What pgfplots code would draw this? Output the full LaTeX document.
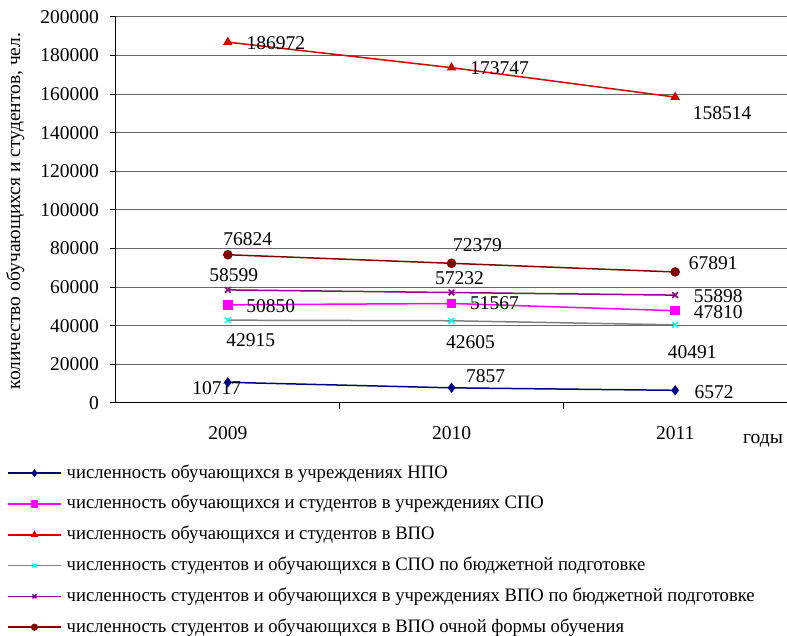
\documentclass[border=0pt]{standalone}
\usepackage{fontspec}
\setmainfont{Liberation Serif}
\newfontfamily\legfont{Liberation Serif}[FakeStretch=0.98]
\usepackage{pgfplots}
\pgfplotsset{compat=1.18}
\definecolor{cnpo}{RGB}{0,0,128}
\definecolor{cspo}{RGB}{255,0,255}
\definecolor{cvpo}{RGB}{210,0,0}
\definecolor{cgray}{RGB}{128,128,128}
\definecolor{ccyan}{RGB}{0,255,255}
\definecolor{cpurp}{RGB}{128,0,128}
\definecolor{cdred}{RGB}{128,0,0}
\pgfplotsset{
  legend image code/.code={\draw[mark repeat=2,mark phase=2,#1,mark size=2.8pt] plot coordinates {(0pt,0pt) (26.5pt,0pt) (53pt,0pt)};}
}
\newcommand{\lbl}[5]{\node[inner sep=0pt,anchor=center,font=\fontsize{19.5}{22}\selectfont] at ([shift={(#3pt,#4pt)}]axis cs:#1,#2) {#5};}
\begin{document}
\begin{tikzpicture}
\path[use as bounding box] (-116pt,-233pt) rectangle (671pt,403pt);
\begin{axis}[
  at={(0pt,0pt)}, anchor=south west,
  scale only axis, width=671pt, height=386pt,
  xmin=-0.5, xmax=2.5, ymin=0, ymax=200000,
  clip=false,
  axis x line*=bottom, axis y line*=left,
  axis line style={-, black, line width=1pt},
  xtick={0,1,2}, xticklabels={2009,2010,2011},
  minor xtick={0.5,1.5},
  major x tick style={draw=none},
  ytick={0,20000,...,200000},
  tick align=outside, major tick length=6pt, minor tick length=6pt,
  tick style={black, line width=1pt},
  ymajorgrids, grid style={black!60, line width=1pt},
  scaled y ticks=false,
  /pgf/number format/assume math mode=true,
  yticklabel style={/pgf/number format/fixed, /pgf/number format/1000 sep={}, inner sep=0pt, xshift=-11pt},
  xticklabel style={inner sep=0pt, yshift=-17pt},
  tick label style={font=\rmfamily\fontsize{19.5}{22}\selectfont},
  ylabel={количество обучающихся и студентов, чел.},
  ylabel style={at={(axis description cs:-0.150,0.497)}, anchor=center, rotate=0, font=\fontsize{19.5}{22}\selectfont},
  legend cell align=left,
  legend style={draw=none, fill=none, at={(axis description cs:-0.1624,-0.158)}, anchor=north west,
    inner sep=0pt, row sep=12.8pt, column sep=5pt,
    font=\legfont\fontsize{19}{22}\selectfont,
    nodes={inner sep=0pt, text height=14pt, text depth=4pt}},
]
\addplot[color=cnpo, line width=1.5pt, mark=diamond*, mark size=4pt] coordinates {(0,10717) (1,7857) (2,6572)};
\addlegendentry{численность обучающихся в учреждениях НПО}
\addplot[color=cspo, line width=1.5pt, mark=square*, mark size=4pt] coordinates {(0,50850) (1,51567) (2,47810)};
\addlegendentry{численность обучающихся и студентов в учреждениях СПО}
\addplot[color=cvpo, line width=1.5pt, mark=triangle*, mark size=4pt] coordinates {(0,186972) (1,173747) (2,158514)};
\addlegendentry{численность обучающихся и студентов в ВПО}
\addplot[color=cgray, line width=1.5pt, mark=x, mark size=4pt, mark options={color=ccyan, line width=1.5pt}] coordinates {(0,42915) (1,42605) (2,40491)};
\addlegendentry{численность студентов и обучающихся в СПО по бюджетной подготовке}
\addplot[color=cpurp, line width=1.5pt, mark=x, mark size=4pt, mark options={line width=1.5pt}] coordinates {(0,58599) (1,57232) (2,55898)};
\addlegendentry{численность студентов и обучающихся в учреждениях ВПО по бюджетной подготовке}
\addplot[color=cdred, line width=1.5pt, mark=*, mark size=4pt] coordinates {(0,76824) (1,72379) (2,67891)};
\addlegendentry{численность студентов и обучающихся в ВПО очной формы обучения}
\lbl{0}{10717}{-11}{-6}{10717}
\lbl{1}{7857}{34}{12}{7857}
\lbl{2}{6572}{39}{-2}{6572}
\lbl{0}{50850}{43}{-1}{50850}
\lbl{1}{51567}{43}{0}{51567}
\lbl{2}{47810}{43}{-1}{47810}
\lbl{0}{186972}{48}{-1}{186972}
\lbl{1}{173747}{48}{0}{173747}
\lbl{2}{158514}{47}{-16}{158514}
\lbl{0}{42915}{23}{-20}{42915}
\lbl{1}{42605}{19}{-21}{42605}
\lbl{2}{40491}{17}{-27}{40491}
\lbl{0}{58599}{6}{15}{58599}
\lbl{1}{57232}{8}{14}{57232}
\lbl{2}{55898}{43}{-1}{55898}
\lbl{0}{76824}{20}{16}{76824}
\lbl{1}{72379}{26}{18}{72379}
\lbl{2}{67891}{38}{9}{67891}
\node[inner sep=0pt, anchor=base, font=\fontsize{19.5}{22}\selectfont] at ([shift={(-24pt,-41pt)}]axis cs:2.5,0) {годы};
\end{axis}
\end{tikzpicture}
\end{document}
